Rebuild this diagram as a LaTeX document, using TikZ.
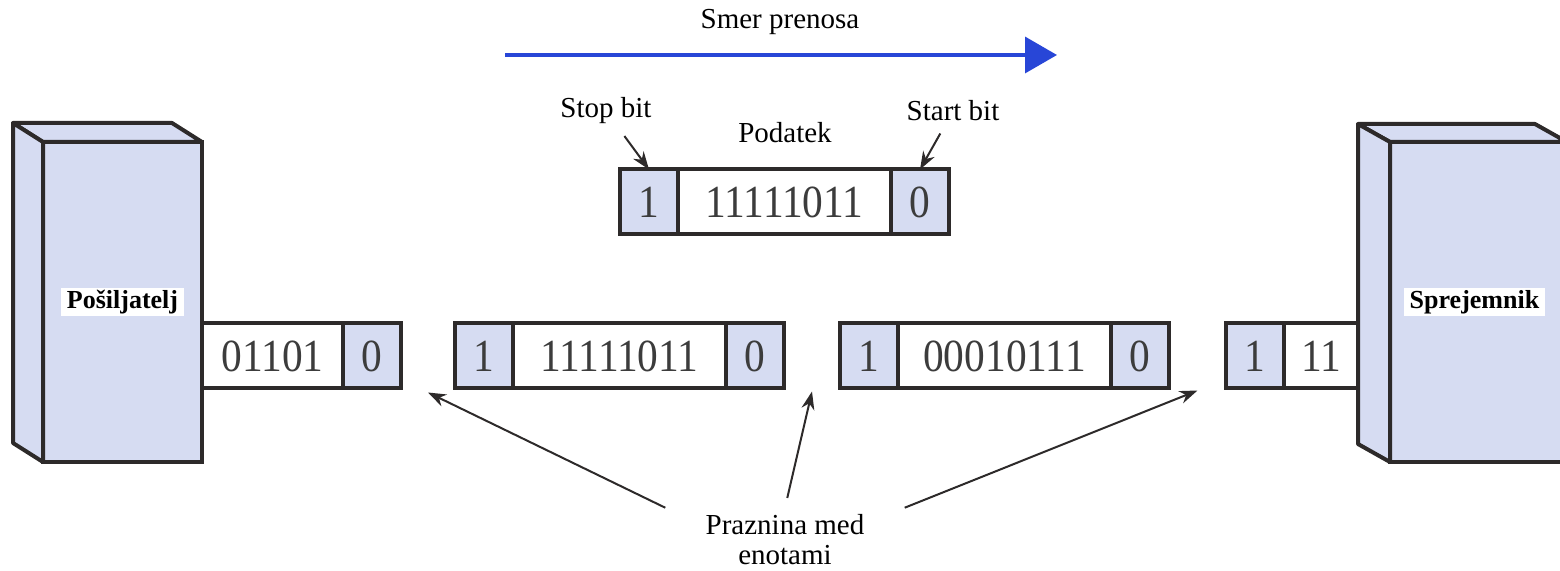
\documentclass[tikz,border=0pt]{standalone}
\usepackage{fontspec}
\setmainfont{Liberation Serif}
\newfontfamily\notefont{Liberation Serif}
\newfontfamily\digitfont{Liberation Serif}[FakeStretch=0.9]
\usetikzlibrary{positioning,arrows.meta,calc}
\definecolor{shade}{RGB}{214,220,242}
\definecolor{frame}{RGB}{45,42,42}
\definecolor{digit}{RGB}{60,60,60}
\definecolor{flow}{RGB}{40,70,215}
\tikzset{
    cell/.style={draw=frame, line width=2pt, minimum height=32.5pt, inner sep=0pt, outer sep=0pt,
        text=digit, font=\digitfont\fontsize{23}{23}\selectfont},
    bitcell/.style={cell, fill=shade, minimum width=29pt},
    datacell/.style={cell, fill=white, minimum width=106.5pt},
    station/.style={draw=frame, line width=2pt, fill=shade, inner sep=0pt, outer sep=0pt, minimum height=160pt},
    face/.style={draw=frame, line width=2pt, fill=shade, line join=round},
    namebox/.style={fill=white, inner xsep=3pt, inner ysep=1pt, font=\notefont\bfseries\fontsize{13}{13}\selectfont},
    txt/.style={font=\notefont\fontsize{14.5}{15}\selectfont, align=center},
    pointer/.style={draw=frame, line width=1pt, -{Stealth[length=9pt,width=6.5pt]}},
}
\begin{document}
\begin{tikzpicture}[x=0.5pt,y=-0.5pt]
    \useasboundingbox (0,0) rectangle (1560,571);
    \clip (0,0) rectangle (1560,571);

    \node[txt] (dir) at (780,22) {Smer prenosa};
    \coordinate (d0) at (505,55);
    \coordinate (d1) at (1057,55);
    \draw[flow, line width=1.8pt, -{Triangle[length=16pt,width=18pt]}] (d0) -- (d1);

    \node[bitcell, anchor=west] (t1) at (620,202) {1};
    \node[datacell, right=0pt of t1] (t2) {11111011};
    \node[bitcell, right=0pt of t2] (t3) {0};
    \node[txt] (stop) at (606,111) {Stop bit};
    \node[txt] (data) at (785,133) {Podatek};
    \node[txt] (start) at (953,111) {Start bit};
    \draw[pointer, shorten <=3pt] (stop) -- (t1.north);
    \draw[pointer, shorten <=3pt] (start) -- (t3.north);

    \node[station, minimum width=79.5pt] (snd) at (122.5,302) {};
    \filldraw[face] (snd.north west) -- ++(-30,-19) -- ++(159,0) -- (snd.north east) -- cycle;
    \filldraw[face] (snd.north west) -- ++(-30,-19) -- ++(0,320) -- (snd.south west) -- cycle;
    \node[namebox] at (snd) {Pošiljatelj};

    \node[station, minimum width=88.5pt] (rcv) at (1478.5,302) {};
    \filldraw[face] (rcv.north west) -- ++(-32,-18) -- ++(177,0) -- (rcv.north east) -- cycle;
    \filldraw[face] (rcv.north west) -- ++(-32,-18) -- ++(0,320) -- (rcv.south west) -- cycle;
    \node[namebox] at ([xshift=-2pt]rcv.center) {Sprejemnik};

    \node[datacell, anchor=west, minimum width=70.5pt] (l1) at ([yshift=-27pt]snd.east) {01101};
    \node[bitcell, right=0pt of l1] (l2) {0};

    \node[bitcell, anchor=west] (a1) at (455,356) {1};
    \node[datacell, right=0pt of a1] (a2) {11111011};
    \node[bitcell, right=0pt of a2] (a3) {0};

    \node[bitcell, anchor=west] (b1) at (840,356) {1};
    \node[datacell, right=0pt of b1] (b2) {00010111};
    \node[bitcell, right=0pt of b2] (b3) {0};

    \node[datacell, anchor=east, minimum width=37pt] (r2) at ([xshift=-16pt,yshift=-27pt]rcv.west) {11};
    \node[bitcell, left=0pt of r2] (r1) {1};

    \node[txt, inner xsep=20pt] (gap) at (785,540) {Praznina med\\enotami};
    \coordinate (g1) at ($(l2.south east)!0.5!(a1.south west)+(0,4)$);
    \coordinate (g2) at ($(a3.south east)!0.5!(b1.south west)+(0,3)$);
    \coordinate (g3) at ($(b3.south east)!0.5!(r1.south west)+(0,2)$);
    \draw[pointer] (gap.north west) -- (g1);
    \draw[pointer, shorten <=5pt] (gap.north) -- (g2);
    \draw[pointer] (gap.north east) -- (g3);
\end{tikzpicture}
\end{document}
